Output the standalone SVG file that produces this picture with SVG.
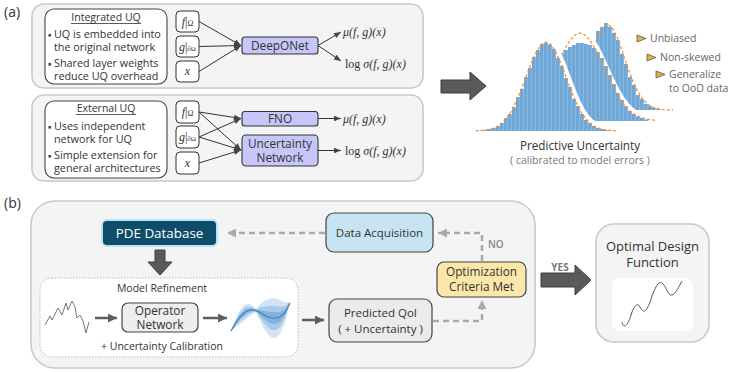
<svg xmlns="http://www.w3.org/2000/svg" width="733" height="372" viewBox="0 0 733 372">
<defs>
<style>
text{font-family:"Open Sans","Noto Sans","DejaVu Sans",sans-serif;fill:#333}
.panel{fill:#f4f4f4;stroke:#c9c9c9;stroke-width:1.6}
.tbox{fill:#fff;stroke:#444;stroke-width:1.1}
.ibox{fill:#fff;stroke:#333;stroke-width:1}
.net{fill:#c6c6f8;stroke:#333;stroke-width:1.1}
.math{font-family:"Liberation Serif","DejaVu Serif",serif;font-style:italic;font-size:12px;fill:#333}
.up{font-style:normal}
.b11{font-size:10.8px}
.ttl{font-size:10.5px}
.conn{stroke:#333;stroke-width:1;fill:none}
.dash{stroke:#aaa;stroke-width:2.5;fill:none;stroke-dasharray:6 4}
.solid{stroke:#5f5f5f;stroke-width:2.5;fill:none}
.orange{fill:none;stroke:#f0913e;stroke-width:1.3;stroke-dasharray:3 2}
.wreg{fill:#fff;stroke:#fff;stroke-width:9;stroke-linejoin:round}
.bigarrow{fill:#5a5a5a;stroke:#3c3c3c;stroke-width:1}
.ann{font-size:10.5px;fill:#666}
.tri{fill:#e2b23a;stroke:#555;stroke-width:0.8}
.box{stroke:#444;stroke-width:1.2}
.lbl12{font-size:11.8px}
</style>
<marker id="ah" viewBox="0 0 10 10" refX="10" refY="5" markerWidth="8" markerHeight="7" orient="auto" markerUnits="userSpaceOnUse"><path d="M0,1 L10,5 L0,9 Z" fill="#444"/></marker>
<marker id="ahg" viewBox="0 0 10 10" refX="10" refY="5" markerWidth="9" markerHeight="9" orient="auto" markerUnits="userSpaceOnUse"><path d="M0,0 L10,5 L0,10 Z" fill="#aaa"/></marker>
<marker id="ahs" viewBox="0 0 10 10" refX="10" refY="5" markerWidth="9" markerHeight="9" orient="auto" markerUnits="userSpaceOnUse"><path d="M0,0 L10,5 L0,10 Z" fill="#5f5f5f"/></marker>
<pattern id="hb" width="4" height="8" patternUnits="userSpaceOnUse"><rect width="4" height="8" fill="#6fa8d6"/><rect x="3.5" width="0.5" height="8" fill="#a3c8e7"/></pattern>
</defs>

<text x="4" y="17" font-size="14">(a)</text>
<text x="4" y="208" font-size="14">(b)</text>

<!-- (a) panels -->
<g id="panel-integrated">
<rect class="panel" x="32" y="4" width="391" height="84" rx="12"/>
<rect class="tbox" x="45" y="9" width="122" height="75" rx="9"/>
<text class="ttl" x="106" y="21" text-anchor="middle">Integrated UQ</text>
<line x1="71" y1="23.5" x2="141" y2="23.5" stroke="#333" stroke-width="0.8"/>
<rect x="48.5" y="34" width="2.6" height="2.6" fill="#444"/>
<text class="b11" x="54" y="38">UQ is embedded into</text>
<text class="b11" x="54" y="51">the original network</text>
<rect x="48.5" y="63" width="2.6" height="2.6" fill="#444"/>
<text class="b11" x="54" y="67">Shared layer weights</text>
<text class="b11" x="54" y="80">reduce UQ overhead</text>
</g>
<g id="panel-external">
<rect class="panel" x="32" y="95" width="391" height="86" rx="12"/>
<rect class="tbox" x="45" y="101" width="122" height="77" rx="9"/>
<text class="ttl" x="106" y="112" text-anchor="middle">External UQ</text>
<line x1="76" y1="114.5" x2="136" y2="114.5" stroke="#333" stroke-width="0.8"/>
<rect x="48.5" y="126" width="2.6" height="2.6" fill="#444"/>
<text class="b11" x="54" y="130">Uses independent</text>
<text class="b11" x="54" y="143">network for UQ</text>
<rect x="48.5" y="155" width="2.6" height="2.6" fill="#444"/>
<text class="b11" x="54" y="159">Simple extension for</text>
<text class="b11" x="54" y="172">general architectures</text>
</g>

<g id="in-f-top"><rect class="ibox" x="176" y="11" width="23" height="21" rx="4"/><text class="math" x="187.5" y="25.5" text-anchor="middle">f<tspan class="up">|</tspan><tspan class="up" font-size="8">Ω</tspan></text></g>
<g id="in-g-top"><rect class="ibox" x="176" y="36" width="23" height="21" rx="4"/><text class="math" x="187.5" y="50.5" text-anchor="middle" font-size="11">g<tspan class="up">|</tspan><tspan class="up" font-size="7">∂Ω</tspan></text></g>
<g id="in-x-top"><rect class="ibox" x="176" y="61" width="23" height="21" rx="4"/><text class="math" x="187.5" y="75" text-anchor="middle">x</text></g>
<g id="in-f-bot"><rect class="ibox" x="176" y="101" width="23" height="22" rx="4"/><text class="math" x="187.5" y="116" text-anchor="middle">f<tspan class="up">|</tspan><tspan class="up" font-size="8">Ω</tspan></text></g>
<g id="in-g-bot"><rect class="ibox" x="176" y="126" width="23" height="22" rx="4"/><text class="math" x="187.5" y="141" text-anchor="middle" font-size="11">g<tspan class="up">|</tspan><tspan class="up" font-size="7">∂Ω</tspan></text></g>
<g id="in-x-bot"><rect class="ibox" x="176" y="152" width="23" height="22" rx="4"/><text class="math" x="187.5" y="166.5" text-anchor="middle">x</text></g>

<g id="deeponet"><rect class="net" x="242" y="37" width="76" height="17" rx="3"/><text class="lbl12" x="280" y="50" text-anchor="middle">DeepONet</text></g>
<g id="fno"><rect class="net" x="242" y="111.5" width="76" height="14.5" rx="3"/><text class="lbl12" x="280" y="123" text-anchor="middle">FNO</text></g>
<g id="uncnet"><rect class="net" x="242" y="135" width="76" height="31" rx="4"/><text class="lbl12" x="280" y="147.5" text-anchor="middle">Uncertainty</text><text class="lbl12" x="280" y="162" text-anchor="middle">Network</text></g>

<g id="outputs">
<text class="math" x="343" y="36">μ(f, g)(x)</text>
<text class="math" x="345" y="68"><tspan class="up">log</tspan> σ(f, g)(x)</text>
<text class="math" x="343" y="122.5">μ(f, g)(x)</text>
<text class="math" x="345" y="154.5"><tspan class="up">log</tspan> σ(f, g)(x)</text>
</g>

<g id="connectors-a" class="conn">
<line x1="199" y1="21.5" x2="241" y2="45.5" marker-end="url(#ah)"/>
<line x1="199" y1="46.5" x2="241" y2="45.5" marker-end="url(#ah)"/>
<line x1="199" y1="71.5" x2="241" y2="45.5" marker-end="url(#ah)"/>
<line x1="318" y1="45.5" x2="341" y2="32" marker-end="url(#ah)"/>
<line x1="318" y1="45.5" x2="341" y2="61" marker-end="url(#ah)"/>
<line x1="199" y1="112" x2="241" y2="118.5" marker-end="url(#ah)"/>
<line x1="199" y1="112" x2="241" y2="150" marker-end="url(#ah)"/>
<line x1="199" y1="137" x2="241" y2="118.5" marker-end="url(#ah)"/>
<line x1="199" y1="137" x2="241" y2="150" marker-end="url(#ah)"/>
<line x1="199" y1="163" x2="241" y2="150" marker-end="url(#ah)"/>
<line x1="318" y1="118.5" x2="341" y2="118.5" marker-end="url(#ah)"/>
<line x1="318" y1="150.5" x2="341" y2="150.5" marker-end="url(#ah)"/>
</g>

<polygon class="bigarrow" points="441,80 470,80 470,72 486,86 470,100 470,93 441,93"/>

<!-- histogram -->
<g id="histogram">
<path fill="url(#hb)" d="M580,110 V78 H584 V66 H588 V52 H592 V43 H596 V31 H600 V27 H604 V23 H608 V27 H612 V33 H616 V40 H620 V54 H624 V64 H628 V77 H632 V85 H636 V95 H640 V99 H644 V104 H648 V106 H652 V108 H656 V109 H660 V109.5 H664 V110 Z"/>
<path class="orange" d="M572,98.4 L577,90.2 L582,79 L587,65.3 L592,50.5 L597,37 L602,27.4 L607,24 L612,27.4 L617,37 L622,50.5 L627,65.3 L632,79 L637,90.2 L642,98.4 L647,103.7 L652,106.9 L657,108.5 L662,109.4 L667,109.8 L673,110"/>
<path class="wreg" d="M505,120.3 L510,119.75 L515,118.8 L520,117.1 L525,114.7 L530,111 L535,105.8 L540,99.1 L545,90.6 L550,80.7 L555,69.8 L560,58.8 L565,48.6 L570,40.3 L575,34.9 L580,33 L585,34.9 L590,40.3 L595,48.6 L600,58.8 L605,69.8 L610,80.7 L615,90.6 L620,99.1 L625,105.8 L630,111 L635,114.7 L640,117.1 L645,118.8 L650,119.75 L655,120.3 L655,121 L505,121 Z"/>
<path fill="url(#hb)" d="M548,121 V62 H552 V58 H556 V56 H560 V53 H564 V50 H568 V47 H572 V45 H576 V43 H580 V43 H584 V44 H588 V45 H592 V48 H596 V52 H600 V58 H604 V66 H608 V75 H612 V84 H616 V93 H620 V100 H624 V106 H628 V111 H632 V114 H636 V116.5 H640 V118 H644 V119.5 H648 V121 Z"/>
<path class="orange" d="M505,120.3 L510,119.75 L515,118.8 L520,117.1 L525,114.7 L530,111 L535,105.8 L540,99.1 L545,90.6 L550,80.7 L555,69.8 L560,58.8 L565,48.6 L570,40.3 L575,34.9 L580,33 L585,34.9 L590,40.3 L595,48.6 L600,58.8 L605,69.8 L610,80.7 L615,90.6 L620,99.1 L625,105.8 L630,111 L635,114.7 L640,117.1 L645,118.8 L650,119.75 L655,120.3"/>
<path class="wreg" d="M476,130.8 L481,130.5 L486,130 L491,129 L496,127.1 L501,123.9 L506,119 L511,111.8 L516,102.1 L521,90.3 L526,77 L531,63.8 L536,52.5 L541,44.7 L546,42 L551,44.7 L556,52.5 L561,63.8 L566,77 L571,90.3 L576,102.1 L581,111.8 L586,119 L591,123.9 L596,127.1 L601,129 L606,130 L611,130.5 L616,130.8 L616,131 L476,131 Z"/>
<path fill="url(#hb)" d="M480,131 V130.5 H484 V130 H488 V129 H492 V128 H496 V126 H500 V123 H504 V118 H508 V114 H512 V107 H516 V97 H520 V89 H524 V77 H528 V68 H532 V57 H536 V50 H540 V44 H544 V43 H548 V45 H552 V49 H556 V58 H560 V66 H564 V78 H568 V87 H572 V99 H576 V106 H580 V114 H584 V120 H588 V123 H592 V126 H596 V128 H600 V129 H604 V130 H608 V130.5 H612 V131 Z"/>
<path class="orange" d="M476,130.8 L481,130.5 L486,130 L491,129 L496,127.1 L501,123.9 L506,119 L511,111.8 L516,102.1 L521,90.3 L526,77 L531,63.8 L536,52.5 L541,44.7 L546,42 L551,44.7 L556,52.5 L561,63.8 L566,77 L571,90.3 L576,102.1 L581,111.8 L586,119 L591,123.9 L596,127.1 L601,129 L606,130 L611,130.5 L616,130.8"/>
</g>

<g id="annotations">
<polygon class="tri" points="637,35 646,38.5 637,42"/>
<text class="ann" x="650" y="42">Unbiased</text>
<polygon class="tri" points="647,54 656,57.5 647,61"/>
<text class="ann" x="660" y="61">Non-skewed</text>
<polygon class="tri" points="656,71 665,74.5 656,78"/>
<text class="ann" x="669" y="78">Generalize</text>
<text class="ann" x="669" y="92">to OoD data</text>
<text x="580" y="150" font-size="11.7" text-anchor="middle">Predictive Uncertainty</text>
<text x="580" y="164" font-size="10.5" text-anchor="middle" style="fill:#777">( calibrated to model errors )</text>
</g>

<!-- (b) -->
<rect class="panel" x="31" y="201" width="504" height="167" rx="24"/>

<g id="pde-db">
<rect x="103" y="221" width="113" height="24" rx="4" fill="#0f4c6a" stroke="#b3e6f4" stroke-width="4"/>
<rect x="103" y="221" width="113" height="24" rx="4" fill="#0f4c6a"/>
<text x="159.5" y="238" font-size="13.4" text-anchor="middle" style="fill:#fff">PDE Database</text>
</g>

<polygon id="down-arrow" class="bigarrow" points="155,250 165,250 165,262 172,262 160,275 148,262 155,262"/>

<g id="model-refinement">
<rect x="40" y="278" width="258" height="79" rx="12" fill="#fff" stroke="#bbb" stroke-width="1" stroke-dasharray="1.5 1.5"/>
<text x="162" y="292" font-size="10.5" text-anchor="middle">Model Refinement</text>
<text x="162" y="350" font-size="10.5" text-anchor="middle">+ Uncertainty Calibration</text>
<polyline points="45,325 50,316 52,320 58,308 62,315 66,303 68,310 72,301 75,307 77,318 80,315 83,321 86,333 89,322" fill="none" stroke="#777" stroke-width="1" stroke-linejoin="round"/>
</g>

<g id="operator-network">
<rect x="122" y="303" width="76" height="29" rx="6" fill="#eee" stroke="#444" stroke-width="1.2"/>
<text class="lbl12" x="160" y="315" text-anchor="middle">Operator</text>
<text class="lbl12" x="160" y="329" text-anchor="middle">Network</text>
</g>

<g id="band-plot">
<polygon fill="#d2e4f3" points="231,330.5 235,320 240,310 244,305 248,303.5 252,305.3 256,309 260,304.5 265,300.5 270,298.5 275,298.2 280,300 285,302.5 290,302 290,304 285,322.5 280,334 275,338.2 270,336.5 265,330.5 260,320.5 256,312 252,314.3 248,317.5 244,321 240,324 235,328 231,331.5"/>
<polygon fill="#a9cbe9" points="231,330.7 235,321.5 240,312.7 244,308 248,306.2 252,307 256,309.6 260,307.5 265,306.2 270,305.7 275,305.8 280,306.5 285,306.3 290,302.4 290,303.6 285,318.7 280,327.5 275,330.6 270,329.3 265,324.8 260,317.5 256,311.4 252,312.6 248,314.8 244,318 240,321.3 235,326.5 231,331.3"/>
<polygon fill="#82b3dd" points="231,330.85 235,322.8 240,314.9 244,310.6 248,308.4 252,308.45 256,310.05 260,310.1 265,311 270,311.8 275,312.2 280,311.9 285,309.5 290,302.7 290,303.3 285,315.5 280,322.1 275,324.2 270,323.2 265,320 260,314.9 256,310.95 252,311.15 248,312.6 244,315.4 240,319.1 235,325.2 231,331.15"/>
<polyline fill="none" stroke="#3a7fc0" stroke-width="1.1" points="231,331 235,324 240,317 244,313 248,310.5 252,309.8 256,310.5 260,312.5 265,315.5 270,317.5 275,318.2 280,317 285,312.5 290,303"/>
</g>

<g id="predicted-qoi">
<rect class="box" x="329" y="299" width="103" height="43" rx="8" fill="#ebebeb"/>
<text font-size="11.5" x="380.5" y="317" text-anchor="middle">Predicted QoI</text>
<text font-size="11.5" x="380.5" y="333" text-anchor="middle">( + Uncertainty )</text>
</g>

<g id="data-acquisition">
<rect class="box" x="326" y="213" width="107" height="39" rx="8" fill="#c6e4f1"/>
<text font-size="11.5" x="379.5" y="237" text-anchor="middle">Data Acquisition</text>
</g>

<g id="optimization">
<rect class="box" x="437" y="262" width="89" height="35" rx="7" fill="#fbe7a9"/>
<text class="lbl12" x="481.5" y="276" text-anchor="middle">Optimization</text>
<text class="lbl12" x="481.5" y="291" text-anchor="middle">Criteria Met</text>
</g>

<g id="optimal-design">
<rect class="panel" x="596" y="224" width="113" height="118" rx="18"/>
<text x="652.5" y="251" font-size="13" text-anchor="middle">Optimal Design</text>
<text x="652.5" y="267" font-size="13" text-anchor="middle">Function</text>
<rect x="612" y="278" width="81" height="53" rx="8" fill="#fff"/>
<path d="M622,322 C624,330 628,325 631,315 C634,306 637,302 640,307 C643,313 646,313 650,302 C654,290 658,280 662,283 C666,286 668,296 672,295 C676,294 679,286 682,281" fill="none" stroke="#555" stroke-width="1"/>
</g>

<g id="connectors-b">
<line class="dash" x1="325" y1="233" x2="227" y2="233" marker-end="url(#ahg)"/>
<path class="dash" d="M482,261 V233 H438" marker-end="url(#ahg)"/>
<path class="dash" d="M433,321 H482 V300" marker-end="url(#ahg)"/>
<line class="solid" x1="95" y1="318" x2="117" y2="318" marker-end="url(#ahs)"/>
<line class="solid" x1="203" y1="318" x2="227" y2="318" marker-end="url(#ahs)"/>
<line class="solid" x1="302" y1="320" x2="324" y2="320" marker-end="url(#ahs)"/>
<text x="488" y="248" font-size="10" font-weight="600" style="fill:#888">NO</text>
<polygon class="bigarrow" points="541,273 575,273 575,265 591,280 575,295 575,287 541,287"/>
<text x="560" y="271" font-size="10" font-weight="700" text-anchor="middle" style="fill:#777">YES</text>
</g>
</svg>
